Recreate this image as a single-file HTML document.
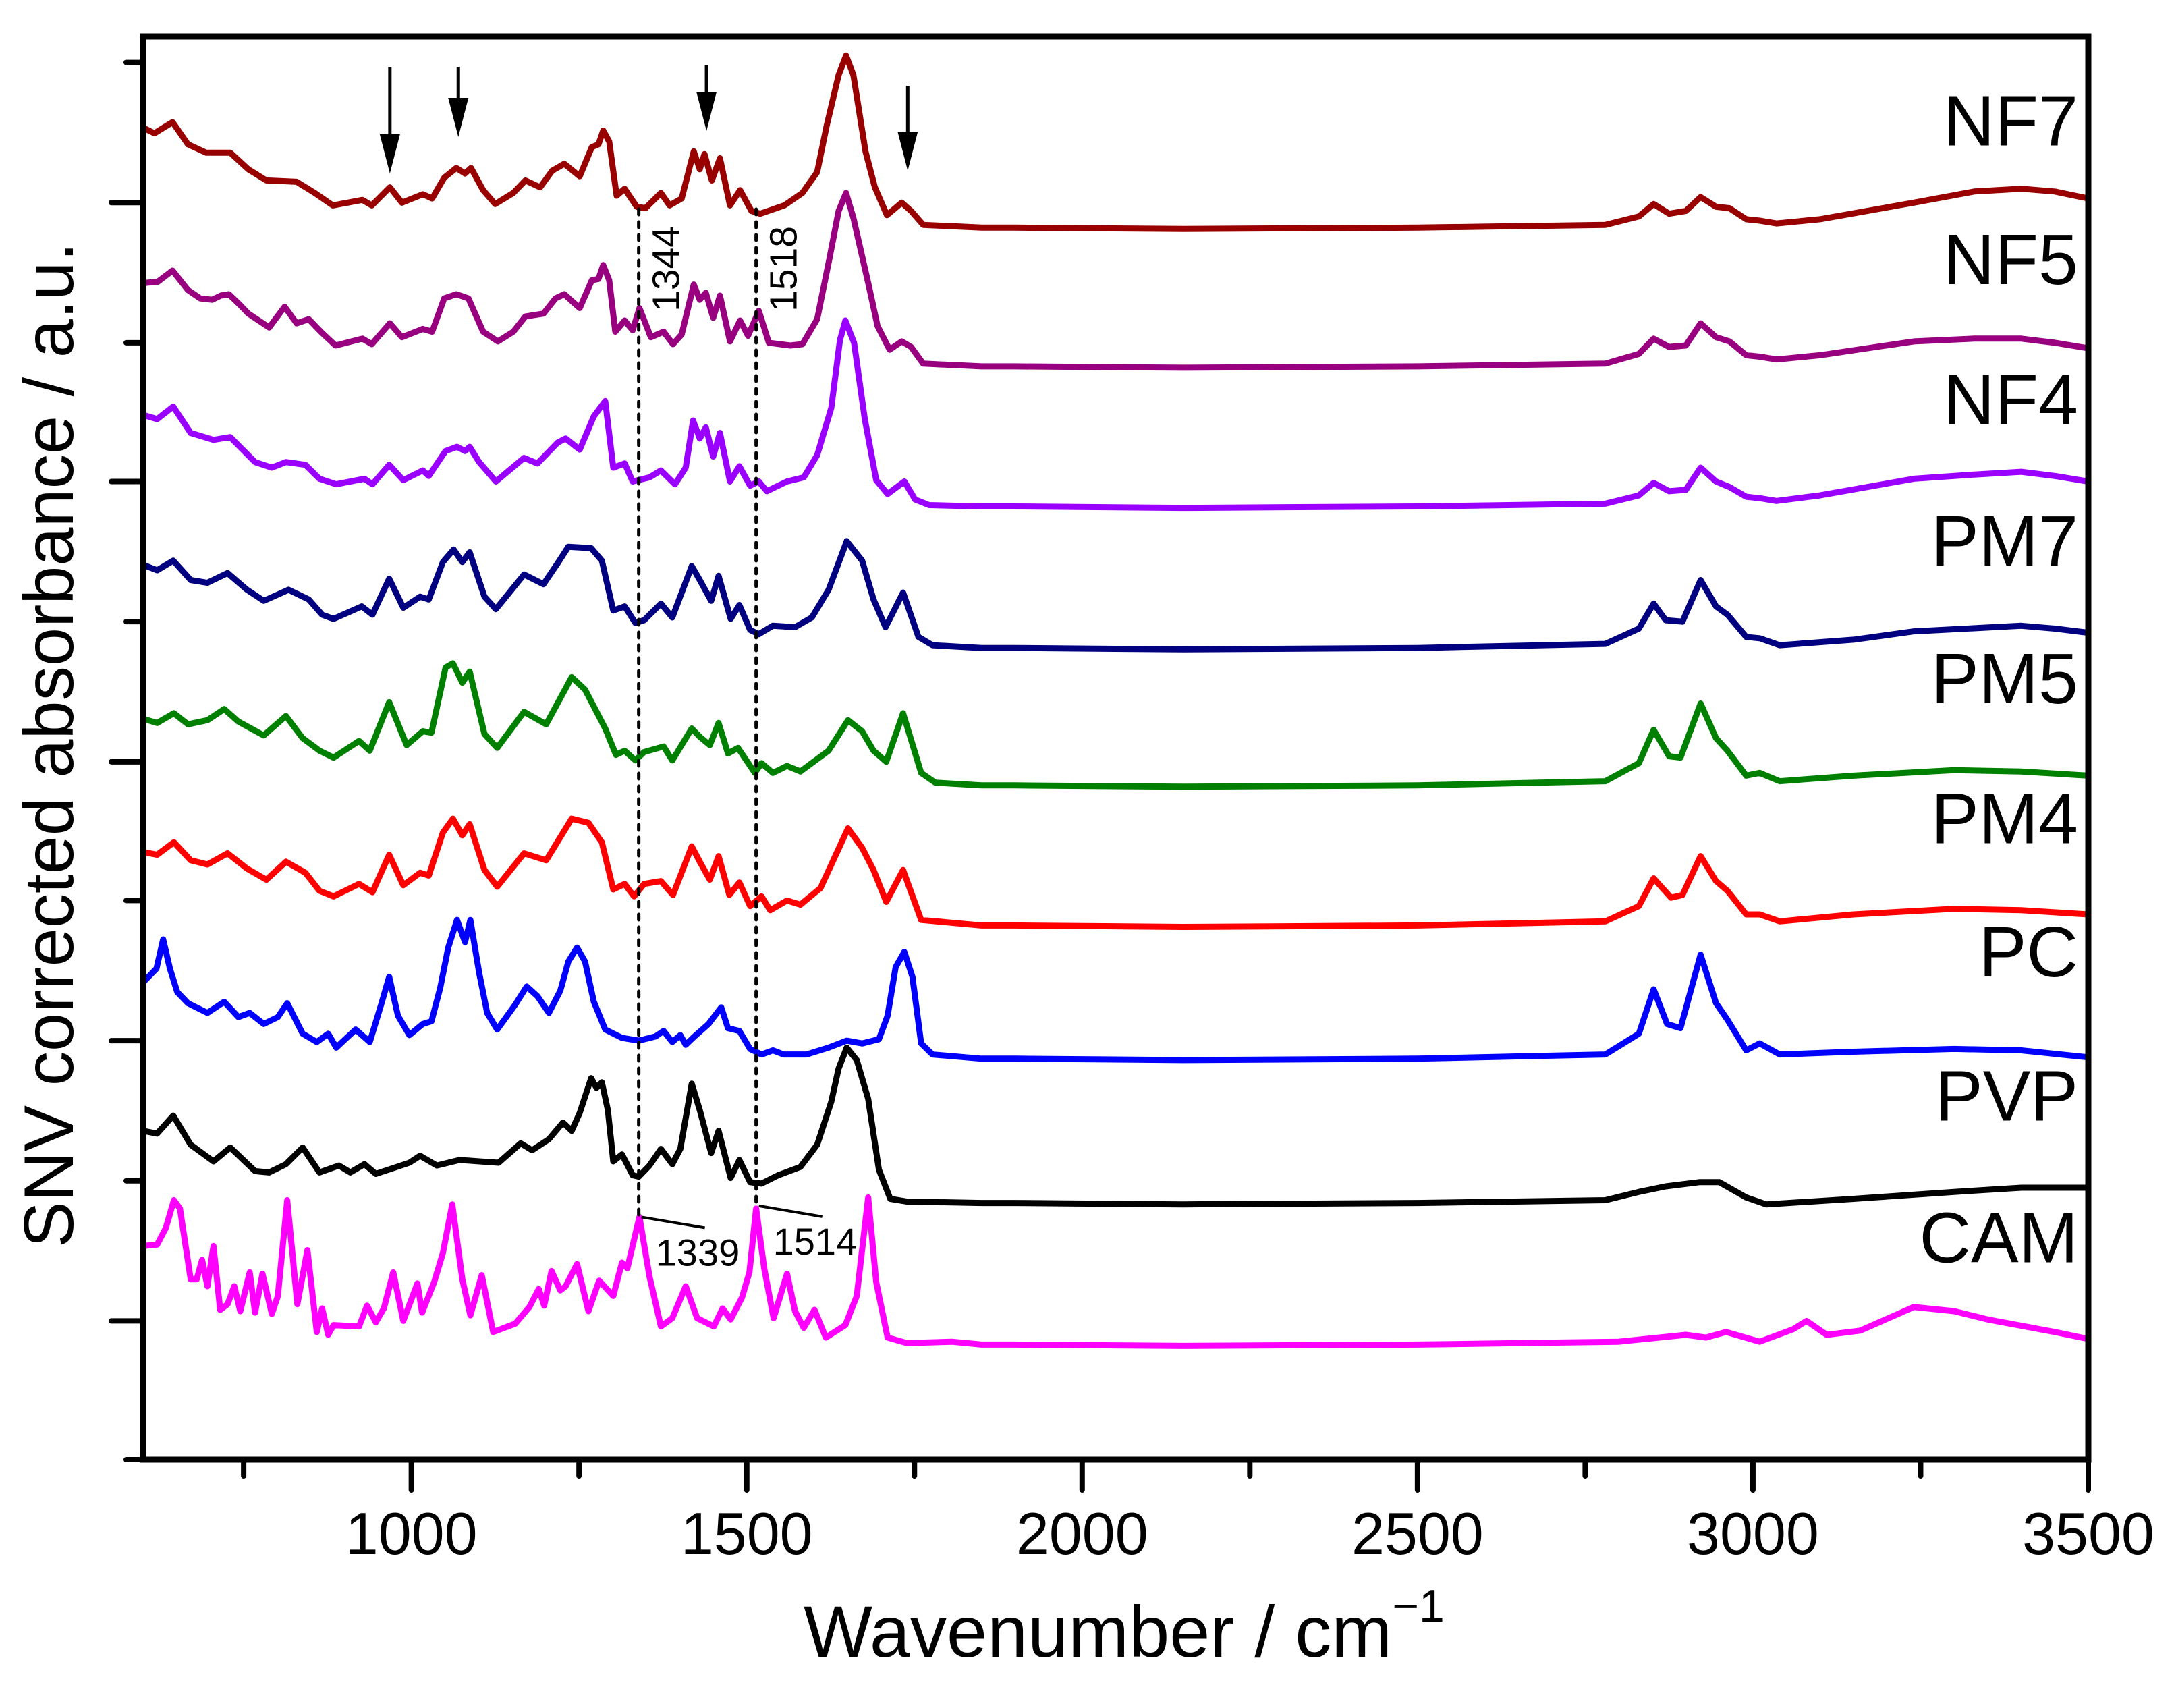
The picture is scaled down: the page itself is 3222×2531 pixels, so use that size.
<!DOCTYPE html>
<html><head><meta charset="utf-8"><title>SNV corrected FTIR spectra</title>
<style>html,body{margin:0;padding:0;background:#fff}svg{display:block}text{font-family:"Liberation Sans",Arial,sans-serif}</style>
</head><body>
<svg id="chart" xmlns="http://www.w3.org/2000/svg" width="3222" height="2531" viewBox="0 0 3222 2531">
<rect x="0" y="0" width="3222" height="2531" fill="#fff"/>
<g id="series-layer"></g>
<g id="annot-layer"></g>
<g id="axes-layer"></g>
</svg>
<script>
// ---------- data ----------
const xTickMajor = [1000, 1500, 2000, 2500, 3000, 3500];
const xTickMinor = [750, 1250, 1750, 2250, 2750, 3250];
const xTickLabels = ["1000", "1500", "2000", "2500", "3000", "3500"];
const yTickMajor = [906, 705, 503, 302, 100];
const yTickMinor = [1007, 805, 604, 403, 201, 0];
const seriesNames = ["NF7", "NF5", "NF4", "PM7", "PM5", "PM4", "PC", "PVP", "CAM"];
const seriesOffsets = [888, 788, 687, 585, 486, 385, 289, 185, 83];
const seriesColors = ["#990000", "#990080", "#9900ff", "#000080", "#008000", "#ff0000", "#0000ff", "#000000", "#ff00ff"];
const arrowWavenumbers = [968, 1070, 1440, 1740];
const markerLines = [1339, 1514];
const markerLabelsTop = ["1344", "1518"];
const markerLabelsBottom = ["1339", "1514"];

const tailHigh = {
 NF7: [[1900,0],[2150,-1],[2500,0],[2780,2],[2830,8],[2852,17],[2875,10],[2900,12],[2922,22],[2945,15],[2965,14],[2990,6],[3010,5],[3035,3],[3100,6],[3240,18],[3330,26],[3400,28],[3450,26],[3500,21]],
 NF5: [[1900,0],[2150,-1],[2500,0],[2780,2],[2830,9],[2852,20],[2875,14],[2900,15],[2922,31],[2945,21],[2965,18],[2990,8],[3010,7],[3035,5],[3100,8],[3240,18],[3330,20],[3400,20],[3450,17],[3500,13]],
 NF4: [[1900,0],[2150,-1],[2500,0],[2780,2],[2830,8],[2852,17],[2875,11],[2900,12],[2922,28],[2945,18],[2965,14],[2990,7],[3010,6],[3035,4],[3100,8],[3240,20],[3330,23],[3400,25],[3450,22],[3500,18]],
 PM7: [[1900,0],[2150,-1],[2500,0],[2780,3],[2830,14],[2852,32],[2870,20],[2895,19],[2922,49],[2945,30],[2962,24],[2990,8],[3010,7],[3040,2],[3150,6],[3240,12],[3400,16],[3450,14],[3500,11]],
 PM5: [[1900,0],[2150,-1],[2500,0],[2780,3],[2830,16],[2852,40],[2875,21],[2892,20],[2922,59],[2945,34],[2962,25],[2990,7],[3010,9],[3040,3],[3150,7],[3300,11],[3400,10],[3500,7]],
 PM4: [[1900,0],[2150,-1],[2500,0],[2780,3],[2830,14],[2852,34],[2878,20],[2895,22],[2922,50],[2945,32],[2962,25],[2990,8],[3010,8],[3040,3],[3150,8],[3300,12],[3400,11],[3500,8]],
 PC:  [[1900,0],[2150,-1],[2500,0],[2780,3],[2830,18],[2852,50],[2872,25],[2892,22],[2922,75],[2945,40],[2962,28],[2990,6],[3010,11],[3040,3],[3150,5],[3300,7],[3400,6],[3500,1]],
 PVP: [[1900,0],[2150,-1],[2500,0],[2780,2],[2830,8],[2870,12],[2920,15],[2950,15],[2990,4],[3020,-1],[3150,3],[3300,8],[3400,11],[3500,11]],
 CAM: [[1900,0],[2150,-1],[2500,0],[2800,2],[2900,7],[2930,5],[2960,9],[3010,2],[3060,11],[3080,17],[3110,7],[3160,10],[3240,27],[3300,24],[3350,18],[3450,9],[3500,4]]
};

const specNF7 = [[600,72],[617,68],[644,76],[667,60],[694,54],[730,54],[757,42],[784,34],[829,33],[856,25],[883,16],[927,20],[941,16],[968,29],[986,18],[1017,24],[1031,21],[1049,36],[1067,43],[1080,39],[1089,43],[1107,27],[1125,17],[1152,25],[1170,34],[1192,29],[1210,41],[1228,46],[1251,37],[1269,58],[1279,60],[1286,70],[1295,62],[1306,23],[1318,28],[1336,15],[1349,14],[1372,25],[1385,16],[1403,21],[1421,55],[1430,42],[1437,53],[1448,34],[1460,50],[1475,16],[1490,27],[1507,12],[1520,10],[1556,16],[1583,25],[1605,40],[1619,73],[1637,110],[1648,124],[1659,110],[1677,55],[1691,29],[1709,9],[1731,18],[1745,12],[1763,2],[1850,0]];
const specNF5 = [[600,60],[622,61],[644,69],[667,55],[685,49],[703,48],[716,51],[728,52],[743,45],[757,38],[788,28],[811,43],[829,31],[847,34],[865,25],[887,15],[927,20],[941,16],[968,31],[986,21],[1017,27],[1031,25],[1049,49],[1067,52],[1085,49],[1107,25],[1129,18],[1152,25],[1170,36],[1197,38],[1215,49],[1228,52],[1251,42],[1269,62],[1279,63],[1286,73],[1295,62],[1304,25],[1318,33],[1330,26],[1340,42],[1357,21],[1376,25],[1390,16],[1403,23],[1421,59],[1430,48],[1439,53],[1450,35],[1460,51],[1475,18],[1490,33],[1502,22],[1518,40],[1533,17],[1565,15],[1583,16],[1605,34],[1623,77],[1637,112],[1648,125],[1659,107],[1682,58],[1695,29],[1713,12],[1731,18],[1745,14],[1763,2],[1850,0]];
const specNF4 = [[600,66],[621,63],[645,72],[671,53],[705,48],[730,50],[767,32],[792,28],[813,32],[842,30],[863,20],[888,16],[930,20],[942,16],[967,30],[988,19],[1017,26],[1026,22],[1051,40],[1068,43],[1080,40],[1087,43],[1101,32],[1126,18],[1168,35],[1188,31],[1218,46],[1230,49],[1251,41],[1272,65],[1289,76],[1301,28],[1318,31],[1330,18],[1355,21],[1372,26],[1393,16],[1409,28],[1420,62],[1430,49],[1439,57],[1450,36],[1460,53],[1475,18],[1489,29],[1505,15],[1518,18],[1530,11],[1560,18],[1585,21],[1605,37],[1626,71],[1639,120],[1647,134],[1660,118],[1676,63],[1693,19],[1710,9],[1735,18],[1751,5],[1772,1],[1850,0]];
const specPM7 = [[600,60],[621,56],[645,63],[671,49],[696,47],[726,54],[755,42],[780,34],[817,42],[847,35],[867,24],[884,21],[926,30],[942,24],[967,50],[988,29],[1013,37],[1026,35],[1047,62],[1063,71],[1076,62],[1087,69],[1109,37],[1126,28],[1168,53],[1197,46],[1218,61],[1234,73],[1268,72],[1284,63],[1301,27],[1318,30],[1334,18],[1347,20],[1372,32],[1389,22],[1418,59],[1430,49],[1447,34],[1458,52],[1476,21],[1489,31],[1505,13],[1518,10],[1539,16],[1572,15],[1597,22],[1622,42],[1649,77],[1672,63],[1689,35],[1707,15],[1733,40],[1756,8],[1777,2],[1850,0]];
const specPM5 = [[600,48],[621,45],[646,52],[667,44],[696,47],[721,55],[742,46],[780,36],[813,50],[838,34],[863,25],[884,20],[922,32],[938,25],[967,60],[993,29],[1017,39],[1030,38],[1051,85],[1062,88],[1076,74],[1087,82],[1109,37],[1128,27],[1168,53],[1201,44],[1239,78],[1259,69],[1289,41],[1305,22],[1318,25],[1334,18],[1347,24],[1376,28],[1389,18],[1418,41],[1430,35],[1445,29],[1458,45],[1472,23],[1487,27],[1512,9],[1522,16],[1539,9],[1560,14],[1580,10],[1622,25],[1651,47],[1672,39],[1689,25],[1708,17],[1733,52],[1760,9],[1781,2],[1850,0]];
const specPM4 = [[600,53],[621,51],[646,60],[671,47],[696,44],[726,52],[755,41],[784,33],[813,46],[842,38],[863,25],[884,21],[922,30],[942,24],[967,51],[988,29],[1013,38],[1026,36],[1047,67],[1062,77],[1076,65],[1087,73],[1109,40],[1128,28],[1168,52],[1201,47],[1239,77],[1264,74],[1284,60],[1301,26],[1318,30],[1332,21],[1347,30],[1372,32],[1390,22],[1418,57],[1430,46],[1445,33],[1458,50],[1474,22],[1489,31],[1505,14],[1522,21],[1535,11],[1560,18],[1580,15],[1610,27],[1651,70],[1672,56],[1689,40],[1708,17],[1733,40],[1760,4],[1850,0]];
const specPC = [[600,55],[620,65],[630,86],[640,65],[651,48],[667,40],[696,33],[721,41],[742,30],[759,33],[780,25],[801,30],[815,40],[838,18],[859,12],[876,18],[888,8],[917,21],[938,12],[955,39],[967,59],[980,31],[997,17],[1017,25],[1030,27],[1043,51],[1055,80],[1068,100],[1080,84],[1088,100],[1101,62],[1113,33],[1128,21],[1143,31],[1155,39],[1172,52],[1188,45],[1205,33],[1222,49],[1234,70],[1247,80],[1259,70],[1272,41],[1289,21],[1314,15],[1339,13],[1364,16],[1376,20],[1389,12],[1401,17],[1409,10],[1422,16],[1443,25],[1462,37],[1472,22],[1489,20],[1505,7],[1522,3],[1539,6],[1555,3],[1589,3],[1622,8],[1649,13],[1672,11],[1697,14],[1710,31],[1722,66],[1735,77],[1747,59],[1760,11],[1777,3],[1850,0]];
const specPVP = [[600,52],[621,50],[645,63],[671,42],[688,36],[705,30],[730,40],[767,23],[788,22],[813,28],[838,40],[863,22],[892,27],[909,22],[930,28],[947,21],[997,29],[1013,34],[1038,27],[1072,31],[1130,29],[1163,43],[1180,38],[1205,46],[1226,58],[1239,52],[1251,65],[1268,90],[1276,83],[1284,87],[1293,67],[1301,30],[1314,35],[1330,20],[1339,19],[1355,27],[1372,39],[1389,28],[1401,39],[1418,86],[1430,67],[1447,36],[1458,52],[1476,18],[1489,31],[1505,15],[1522,14],[1547,20],[1580,26],[1605,42],[1626,73],[1637,97],[1649,112],[1664,103],[1681,75],[1697,24],[1714,3],[1739,1],[1850,0]];
const specCAM = [[600,71],[621,72],[634,84],[646,104],[655,98],[671,47],[680,47],[688,61],[696,42],[705,71],[715,25],[726,29],[736,42],[745,24],[759,52],[767,23],[778,51],[792,22],[801,35],[815,104],[830,29],[845,68],[859,9],[867,26],[876,7],[884,14],[922,13],[934,28],[947,16],[959,26],[973,52],[988,17],[1009,44],[1016,23],[1034,45],[1047,66],[1061,101],[1076,47],[1088,21],[1105,50],[1122,9],[1155,15],[1176,27],[1190,40],[1198,28],[1209,53],[1222,39],[1230,42],[1247,58],[1264,24],[1280,46],[1301,35],[1314,59],[1322,55],[1340,92],[1355,49],[1372,13],[1389,19],[1409,42],[1426,19],[1451,13],[1464,26],[1476,18],[1493,34],[1504,52],[1514,98],[1526,55],[1540,19],[1560,51],[1572,24],[1585,12],[1601,25],[1618,5],[1647,14],[1664,35],[1681,106],[1693,45],[1710,5],[1739,1],[1806,2],[1850,0]];

const spectra = {NF7: specNF7, NF5: specNF5, NF4: specNF4, PM7: specPM7, PM5: specPM5, PM4: specPM4, PC: specPC, PVP: specPVP, CAM: specCAM};

// ---------- scales ----------
const X0 = 212, X1 = 3095, Y0 = 2163, YTOP = 54;
const XMIN = 600, XMAX = 3500;
const YPX = 2.056;
function xs(w) { return X0 + (w - XMIN) * (X1 - X0) / (XMAX - XMIN); }
function ys(v) { return Y0 - v * YPX; }

const NS = "http://www.w3.org/2000/svg";
function mk(tag, attrs, parent) {
  const el = document.createElementNS(NS, tag);
  for (const k in attrs) el.setAttribute(k, attrs[k]);
  parent.appendChild(el);
  return el;
}
const seriesLayer = document.getElementById('series-layer');
const annotLayer = document.getElementById('annot-layer');
const axesLayer = document.getElementById('axes-layer');

// ---------- series ----------
seriesNames.forEach((name, i) => {
  const pts = spectra[name].concat(tailHigh[name]);
  const off = seriesOffsets[i];
  const d = pts.map((p, j) => (j ? 'L' : 'M') + xs(p[0]).toFixed(1) + ',' + ys(off + p[1]).toFixed(1)).join(' ');
  const path = mk('path', {d: d, fill: 'none', stroke: seriesColors[i], 'stroke-width': 9, 'stroke-linejoin': 'round', 'stroke-linecap': 'butt'}, seriesLayer);
  
  
  const lab = mk('text', {x: 3080, y: ys(off) - 122, 'font-size': 106, 'text-anchor': 'end', fill: '#000'}, seriesLayer);
  lab.textContent = name;
  
  
});

// ---------- marker dotted lines ----------
const camOff = seriesOffsets[8];
function camAt(w) {
  const s = specCAM;
  for (let j = 1; j < s.length; j++) {
    if (s[j][0] >= w) { const a = s[j-1], b = s[j]; return a[1] + (b[1]-a[1]) * (w-a[0]) / (b[0]-a[0]); }
  }
  return 0;
}
markerLines.forEach((w, i) => {
  const x = xs(w);
  const yb = ys(camOff + camAt(w));
  const ln = mk('line', {x1: x, y1: 310, x2: x, y2: yb, stroke: '#000', 'stroke-width': 5, 'stroke-dasharray': '8 11', 'stroke-linecap': 'round'}, annotLayer);
  
  
  const tx = x + 60, ty = 335;
  const t = mk('text', {x: tx, y: ty, 'font-size': 57, 'text-anchor': 'end', transform: 'rotate(-90 ' + tx + ' ' + ty + ')'}, annotLayer);
  t.textContent = markerLabelsTop[i];
  
  
  const lx = x + 4, ly = yb - 4;
  const lead = mk('line', {x1: lx, y1: ly, x2: lx + 94, y2: ly + 16, stroke: '#000', 'stroke-width': 4}, annotLayer);
  
  
  const b = mk('text', {x: x + 25, y: yb + 68, 'font-size': 56}, annotLayer);
  b.textContent = markerLabelsBottom[i];
  
  
});

// ---------- arrows ----------
const arrowTops = [99, 99, 96, 127];
const arrowTips = [257, 203, 194, 253];
arrowWavenumbers.forEach((w, i) => {
  const x = xs(w);
  const g = mk('g', {}, annotLayer);
  
  
  const tip = arrowTips[i], headStart = tip - 58;
  mk('line', {x1: x, y1: arrowTops[i], x2: x, y2: headStart + 5, stroke: '#000', 'stroke-width': 5}, g);
  mk('polygon', {points: (x-15) + ',' + headStart + ' ' + (x+15) + ',' + headStart + ' ' + x + ',' + tip, fill: '#000'}, g);
});

// ---------- axes ----------
const frame = mk('rect', {x: X0, y: YTOP, width: X1 - X0, height: Y0 - YTOP, fill: 'none', stroke: '#000', 'stroke-width': 9}, axesLayer);


xTickMajor.forEach((w, i) => {
  const x = xs(w);
  const t = mk('line', {x1: x, y1: Y0, x2: x, y2: Y0 + 45, stroke: '#000', 'stroke-width': 8, 'stroke-linecap': 'round'}, axesLayer);
  
  
  const lab = mk('text', {x: x, y: 2303, 'font-size': 88, 'text-anchor': 'middle'}, axesLayer);
  lab.textContent = xTickLabels[i];
  
  
});
xTickMinor.forEach(w => {
  const x = xs(w);
  const t = mk('line', {x1: x, y1: Y0, x2: x, y2: Y0 + 24, stroke: '#000', 'stroke-width': 8, 'stroke-linecap': 'round'}, axesLayer);
  
  
});
yTickMajor.forEach(v => {
  const y = ys(v);
  const t = mk('line', {x1: X0, y1: y, x2: X0 - 47, y2: y, stroke: '#000', 'stroke-width': 8, 'stroke-linecap': 'round'}, axesLayer);
  
  
});
yTickMinor.forEach(v => {
  const y = ys(v);
  const t = mk('line', {x1: X0, y1: y, x2: X0 - 25, y2: y, stroke: '#000', 'stroke-width': 8, 'stroke-linecap': 'round'}, axesLayer);
  
  
});
</script>
<svg style="position:absolute;left:0;top:0" width="3222" height="2531">
<text x="0" y="0" font-size="104" text-anchor="middle" textLength="1490" lengthAdjust="spacingAndGlyphs" transform="translate(108 1104) rotate(-90)" style="font-family:'Liberation Sans',Arial,sans-serif">SNV corrected absorbance / a.u.</text>
<text x="1191" y="2455" font-size="108" style="font-family:'Liberation Sans',Arial,sans-serif">Wavenumber / cm<tspan font-size="68" dy="-52">−1</tspan></text>
</svg>
</body></html>
